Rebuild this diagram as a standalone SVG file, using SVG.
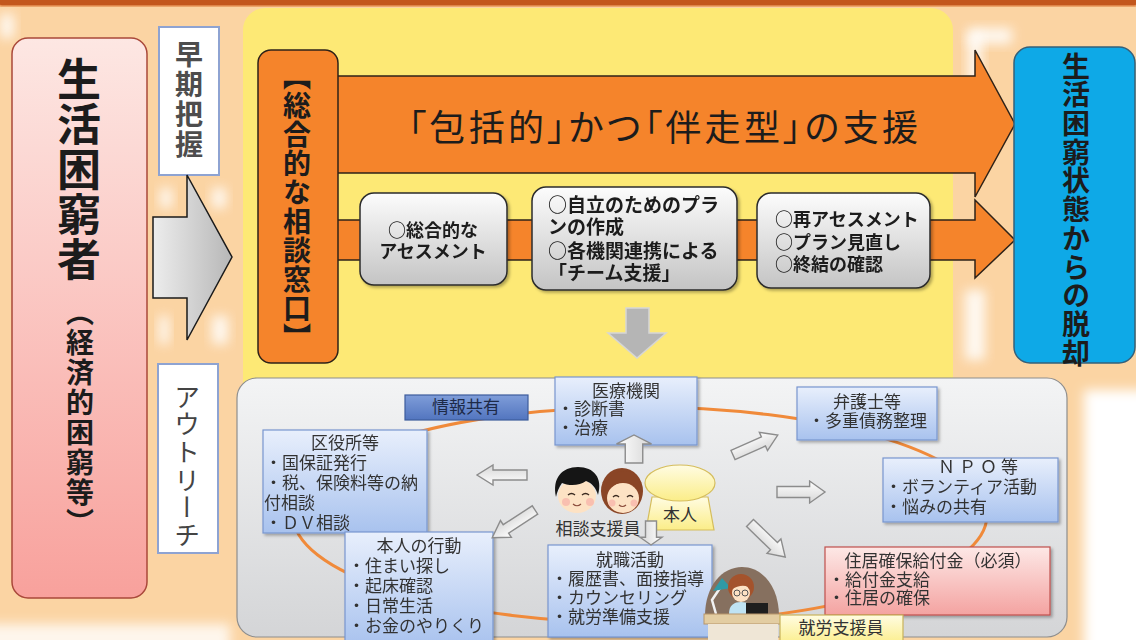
<svg xmlns="http://www.w3.org/2000/svg" width="1136" height="640" viewBox="0 0 1136 640">
  <defs>
    <style>
      .t { font-family: "Noto Sans CJK JP", "Noto Sans CJK SC", sans-serif; fill: #1c1c1c; }
      .b { font-weight: bold; }
      .v { writing-mode: vertical-rl; }
      .c { text-anchor: middle; }
      .info { font-size: 17px; fill: #333; }
      .pbox { fill: url(#gGrayBox); stroke: #2b2b2b; stroke-width: 1.5; }
      .bbox { fill: url(#gBlue); stroke: #7896cf; stroke-width: 1.2; }
      .hollow { fill: url(#gHollow); stroke: #8c8c8c; stroke-width: 1.4; }
      .orange { fill: #f5842b; stroke: #2e2218; stroke-width: 1.5; }
      .glow { fill: #ffffff; opacity: 0.85; filter: url(#blur6); }
      .palt { font-feature-settings: "palt"; }
    </style>
    <linearGradient id="gPink" x1="0" y1="0" x2="0" y2="1">
      <stop offset="0" stop-color="#fde7e3"/>
      <stop offset="1" stop-color="#f8a19c"/>
    </linearGradient>
    <linearGradient id="gGrayBox" x1="0" y1="0" x2="0" y2="1">
      <stop offset="0" stop-color="#fcfcfc"/>
      <stop offset="1" stop-color="#c4c4c4"/>
    </linearGradient>
    <linearGradient id="gBigArrow" x1="0" y1="0" x2="1" y2="0">
      <stop offset="0" stop-color="#ededed"/>
      <stop offset="1" stop-color="#b7b7b7"/>
    </linearGradient>
    <linearGradient id="gPanel" x1="0" y1="0" x2="0" y2="1">
      <stop offset="0" stop-color="#f3f4f5"/>
      <stop offset="1" stop-color="#d4d5d7"/>
    </linearGradient>
    <linearGradient id="gBlue" x1="0" y1="0" x2="0" y2="1">
      <stop offset="0" stop-color="#e8effc"/>
      <stop offset="1" stop-color="#a8c2ee"/>
    </linearGradient>
    <linearGradient id="gTag" x1="0" y1="0" x2="0" y2="1">
      <stop offset="0" stop-color="#7f9dd9"/>
      <stop offset="1" stop-color="#5275bf"/>
    </linearGradient>
    <linearGradient id="gRed" x1="0" y1="0" x2="0" y2="1">
      <stop offset="0" stop-color="#fde8e6"/>
      <stop offset="1" stop-color="#f4a3a1"/>
    </linearGradient>
    <linearGradient id="gYel" x1="0" y1="0" x2="0" y2="1">
      <stop offset="0" stop-color="#fffce2"/>
      <stop offset="1" stop-color="#fbed88"/>
    </linearGradient>
    <linearGradient id="gHollow" x1="0" y1="0" x2="0" y2="1">
      <stop offset="0" stop-color="#ffffff"/>
      <stop offset="1" stop-color="#d6d6d6"/>
    </linearGradient>
    <filter id="blur6" x="-50%" y="-50%" width="200%" height="200%">
      <feGaussianBlur stdDeviation="6"/>
    </filter>
    <filter id="shadow" x="-10%" y="-10%" width="130%" height="130%">
      <feDropShadow dx="2" dy="2" stdDeviation="1.5" flood-color="#000" flood-opacity="0.3"/>
    </filter>
    <!-- small block arrow pointing along +x, 50 long -->
    <path id="sArrow" d="M0,-5 H34 V-10 L50,0 L34,10 V5 H0 Z" vector-effect="non-scaling-stroke"/>
  </defs>

  <!-- page background -->
  <rect x="0" y="0" width="1136" height="640" fill="#fbd4a3"/>
  <rect x="1084" y="390" width="80" height="270" fill="#ffffff" filter="url(#blur6)"/>
  <rect x="-20" y="624" width="250" height="40" fill="#ffffff" opacity="0.8" filter="url(#blur6)"/>
  <g id="glows">
    <rect class="glow" x="160" y="188" width="12" height="20"/>
    <rect class="glow" x="212" y="188" width="14" height="20"/>
    <rect class="glow" x="159" y="316" width="10" height="28"/>
    <rect class="glow" x="212" y="316" width="16" height="28"/>
    <rect class="glow" x="968" y="28" width="44" height="16"/>
    <rect class="glow" x="968" y="34" width="14" height="60"/>
    <rect class="glow" x="0" y="14" width="14" height="24"/>
    <rect class="glow" x="965" y="290" width="20" height="70"/>
  </g>

  <!-- title bar -->
  <rect x="-4" y="-10" width="1144" height="16" rx="6" fill="#c3571d" stroke="#e89558" stroke-width="1.5"/>

  <!-- yellow stage -->
  <rect id="stage" x="243" y="8" width="710" height="400" rx="22" fill="#fde975"/>

  <!-- left target group -->
  <g id="node-needy">
    <rect x="12" y="38" width="135" height="560" rx="16" fill="url(#gPink)" stroke="#a9483a" stroke-width="1.5"/>
    <text class="t b v" x="79" y="57" font-size="44" letter-spacing="1">生活困窮者</text>
    <text class="t b v" x="80" y="298" font-size="28" letter-spacing="2">（経済的困窮等）</text>
  </g>

  <g id="node-early">
    <rect x="159" y="27" width="60" height="148" fill="#ffffff" stroke="#8ea3d2" stroke-width="2"/>
    <text class="t b v" x="189" y="40" font-size="28" letter-spacing="2" style="fill:#4d4d4d">早期把握</text>
  </g>

  <g id="node-outreach">
    <rect x="158" y="364" width="60" height="189" fill="#ffffff" stroke="#8ea3d2" stroke-width="2"/>
    <text class="t v" x="187" y="384" font-size="26" letter-spacing="1.6" style="fill:#444">アウトリーチ</text>
  </g>

  <g id="entry-arrow">
    <path d="M153,217 H187 V175 L232,257 L187,340 V298 H153 Z" fill="url(#gBigArrow)" stroke="#1a1a1a" stroke-width="1.5"/>
  </g>

  <!-- support flow arrows -->
  <g id="flow-arrows">
    <path class="orange" d="M337,76 H975 V50 L1015,124 L975,197 V173 H337 Z"/>
    <text class="t palt" x="408" y="141" font-size="36" textLength="510" lengthAdjust="spacing">「包括的」かつ「伴走型」の支援</text>
    <path class="orange" d="M337,220 H975 V200 L1015,240 L975,278 V260 H337 Z"/>
  </g>

  <g id="node-window">
    <rect class="orange" x="258" y="50" width="80" height="313" rx="13"/>
    <text class="t b v" x="297" y="62" font-size="28" letter-spacing="1">【総合的な相談窓口】</text>
  </g>

  <g id="node-assess" filter="url(#shadow)">
    <rect class="pbox" x="360" y="193" width="147" height="92" rx="14"/>
    <text class="t b c" x="433" y="237" font-size="18">○総合的な</text>
    <text class="t b c" x="433" y="258" font-size="18">アセスメント</text>
  </g>

  <g id="node-plan" filter="url(#shadow)">
    <rect class="pbox" x="532" y="187" width="205" height="103" rx="14"/>
    <text class="t b" x="548" y="212" font-size="19">○自立のためのプラ</text>
    <text class="t b" x="548" y="234" font-size="19">ンの作成</text>
    <text class="t b" x="548" y="258" font-size="19">○各機関連携による</text>
    <text class="t b" x="548" y="280" font-size="19">「チーム支援」</text>
  </g>

  <g id="node-review" filter="url(#shadow)">
    <rect class="pbox" x="757" y="193" width="173" height="95" rx="14"/>
    <text class="t b" x="775" y="226" font-size="18">○再アセスメント</text>
    <text class="t b" x="775" y="249" font-size="18">○プラン見直し</text>
    <text class="t b" x="775" y="271" font-size="18">○終結の確認</text>
  </g>

  <g id="node-exit">
    <rect x="1014" y="47" width="121" height="316" rx="16" fill="#0ea9e7" stroke="#35607a" stroke-width="1.5"/>
    <text class="t b v" x="1076" y="52" font-size="28" letter-spacing="0.7">生活困窮状態からの脱却</text>
  </g>

  <g id="down-arrow">
    <path d="M626,308 H649 V333 H666 L637,358 L608,333 H626 Z" fill="#b5b5b5" stroke="#d6d6d6" stroke-width="1.5"/>
  </g>

  <!-- network panel -->
  <rect id="panel" x="237" y="378" width="830" height="259" rx="20" fill="url(#gPanel)" stroke="#8e8e8e" stroke-width="1.2"/>

  <!-- information-sharing ring, runs behind the partner boxes -->
  <g id="links">
    <ellipse cx="640" cy="515" rx="347" ry="108" fill="none" stroke="#f08a3a" stroke-width="3"/>
  </g>

  <g id="node-share">
    <rect x="405" y="395" width="123" height="25" fill="url(#gTag)" stroke="#3d5c9c" stroke-width="1.2"/>
    <text class="t c" x="466" y="413" font-size="17" style="fill:#1d2a48">情報共有</text>
  </g>

  <g id="node-ward" filter="url(#shadow)">
    <rect class="bbox" x="263" y="430" width="164" height="103"/>
    <text class="t info c" x="345" y="449">区役所等</text>
    <text class="t info" x="265" y="469">・国保証発行</text>
    <text class="t info" x="265" y="489">・税、保険料等の納</text>
    <text class="t info" x="264" y="509">付相談</text>
    <text class="t info" x="265" y="529">・ＤＶ相談</text>
  </g>

  <g id="node-self" filter="url(#shadow)">
    <rect class="bbox" x="345" y="532" width="148" height="115"/>
    <text class="t info c" x="419" y="552">本人の行動</text>
    <text class="t info" x="348" y="572">・住まい探し</text>
    <text class="t info" x="348" y="592">・起床確認</text>
    <text class="t info" x="348" y="612">・日常生活</text>
    <text class="t info" x="348" y="632">・お金のやりくり</text>
  </g>

  <g id="node-medical" filter="url(#shadow)">
    <rect class="bbox" x="555" y="377" width="142" height="68"/>
    <text class="t info c" x="626" y="397" font-size="16">医療機関</text>
    <text class="t info" x="557" y="415" font-size="18">・診断書</text>
    <text class="t info" x="557" y="434" font-size="18">・治療</text>
  </g>

  <g id="node-lawyer" filter="url(#shadow)">
    <rect class="bbox" x="797" y="387" width="140" height="53"/>
    <text class="t info c" x="867" y="408" font-size="16">弁護士等</text>
    <text class="t info" x="808" y="427">・多重債務整理</text>
  </g>

  <g id="node-npo" filter="url(#shadow)">
    <rect class="bbox" x="883" y="458" width="175" height="64"/>
    <text class="t info c" x="980" y="473" letter-spacing="4">ＮＰＯ等</text>
    <text class="t info" x="885" y="493">・ボランティア活動</text>
    <text class="t info" x="885" y="513">・悩みの共有</text>
  </g>

  <g id="node-housing" filter="url(#shadow)">
    <rect x="825" y="547" width="225" height="68" fill="url(#gRed)" stroke="#c0504d" stroke-width="1.2"/>
    <text class="t info c" x="938" y="567" font-size="17.5">住居確保給付金（必須）</text>
    <text class="t info" x="828" y="586">・給付金支給</text>
    <text class="t info" x="828" y="604">・住居の確保</text>
  </g>

  <g id="node-job" filter="url(#shadow)">
    <rect class="bbox" x="548" y="545" width="164" height="92"/>
    <text class="t info c" x="630" y="566">就職活動</text>
    <text class="t info" x="551" y="585">・履歴書、面接指導</text>
    <text class="t info" x="551" y="604">・カウンセリング</text>
    <text class="t info" x="551" y="623">・就労準備支援</text>
  </g>

  <!-- counselors -->
  <g id="node-counselors">
    <ellipse cx="577" cy="496" rx="19" ry="17" fill="#fde2c4"/>
    <path d="M556,497 C552,478 562,467 578,467 C594,467 603,478 598,495 C596,488 592,483 586,481 C580,486 568,486 562,483 C559,487 557,492 556,497 Z" fill="#151515"/>
    <path d="M568,495 q3.5,-3 7,0 M582,495 q3.5,-3 7,0" fill="none" stroke="#3a2a20" stroke-width="1.4"/>
    <circle cx="566" cy="502" r="4" fill="#f6b0a8" opacity="0.7"/>
    <circle cx="590" cy="502" r="4" fill="#f6b0a8" opacity="0.7"/>
    <path d="M573,504 q4,3.5 8,0" fill="none" stroke="#8a4a3a" stroke-width="1.2"/>

    <ellipse cx="622" cy="491" rx="21" ry="23" fill="#8a4526"/>
    <ellipse cx="623" cy="498" rx="16" ry="15" fill="#fde2c4"/>
    <path d="M605,493 C606,477 616,470 626,471 C636,472 642,480 640,493 C636,485 630,482 624,482 C616,483 610,487 605,493 Z" fill="#8a4526"/>
    <path d="M613,497 q3,-3 6,0 M627,497 q3,-3 6,0" fill="none" stroke="#3a2a20" stroke-width="1.4"/>
    <circle cx="612" cy="503" r="3.5" fill="#f6b0a8" opacity="0.7"/>
    <circle cx="634" cy="503" r="3.5" fill="#f6b0a8" opacity="0.7"/>
    <path d="M619,505 q3.5,3 7,0" fill="none" stroke="#8a4a3a" stroke-width="1.2"/>

    <text class="t info c" x="598" y="535" font-size="16">相談支援員</text>
  </g>

  <g id="node-person">
    <path d="M652,497 H708 L714,530 H646 Z" fill="url(#gYel)" stroke="#d5bd5c" stroke-width="1.2"/>
    <ellipse cx="680" cy="483" rx="35" ry="18" fill="url(#gYel)" stroke="#d5bd5c" stroke-width="1.2"/>
    <text class="t info c" x="680" y="521">本人</text>
  </g>

  <!-- job supporter at desk -->
  <g id="node-job-supporter">
    <path d="M705,616 C705,586 722,567 742,567 C762,567 779,586 779,616 Z" fill="#86705f"/>
    <path d="M716,614 L712,600 L720,588" fill="none" stroke="#f2f2f2" stroke-width="2.5"/>
    <path d="M713,591 L722,578 L731,588 Z" fill="#2f9aa6"/>
    <ellipse cx="741" cy="587" rx="13" ry="13" fill="#a4532c"/>
    <ellipse cx="741" cy="593" rx="9" ry="9" fill="#fde2c4"/>
    <path d="M731,590 C732,580 738,578 742,578 C748,578 752,583 752,590 C748,585 740,584 731,590 Z" fill="#a4532c"/>
    <circle cx="737" cy="593" r="3" fill="none" stroke="#555" stroke-width="1"/>
    <circle cx="745" cy="593" r="3" fill="none" stroke="#555" stroke-width="1"/>
    <path d="M729,614 C729,605 734,602 741,602 C748,602 753,605 753,614 Z" fill="#bfe3f3"/>
    <rect x="746" y="603" width="22" height="14" fill="#1e1e1e"/>
    <rect x="704" y="614" width="78" height="10" fill="#e3cda2" stroke="#b7956a" stroke-width="1"/>
    <rect x="708" y="624" width="70" height="16" fill="#efe6d6"/>
    <rect x="780" y="615" width="123" height="30" fill="url(#gYel)" stroke="#c8b25a" stroke-width="1.2"/>
    <text class="t info c" x="841" y="634">就労支援員</text>
  </g>

  <!-- referral arrows from the counselors out to each partner -->
  <g id="connectors">
    <use href="#sArrow" class="hollow" transform="translate(527,475) rotate(180)"/>
    <use href="#sArrow" class="hollow" transform="translate(535,510) rotate(147) scale(1.02,1)"/>
    <use href="#sArrow" class="hollow" transform="translate(733,455) rotate(-24) scale(0.98,1)"/>
    <use href="#sArrow" class="hollow" transform="translate(777,492) scale(0.96,1.1)"/>
    <use href="#sArrow" class="hollow" transform="translate(750,523) rotate(44) scale(0.98,1)"/>
    <use href="#sArrow" class="hollow" transform="translate(634,463) rotate(-90) scale(0.56,1.75)"/>
    <use href="#sArrow" class="hollow" transform="translate(651,521) rotate(90) scale(0.48,1.1)"/>
  </g>
</svg>
